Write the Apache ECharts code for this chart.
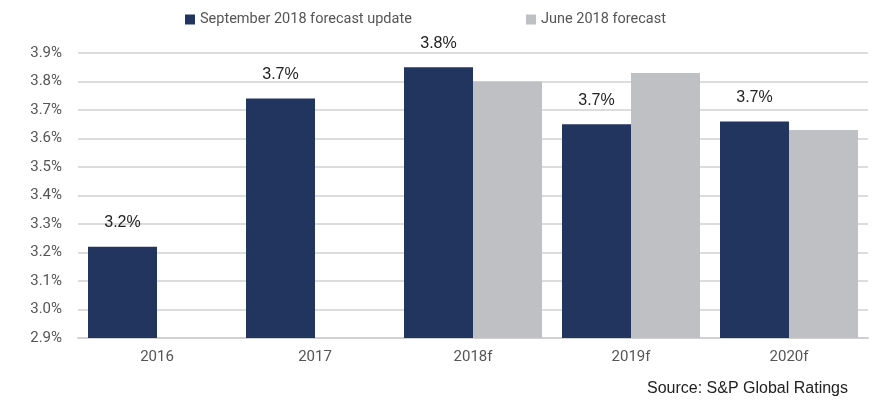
<!DOCTYPE html>
<html>
<head>
<meta charset="utf-8">
<script src="https://cdn.jsdelivr.net/npm/echarts@6/dist/echarts.min.js"></script>
<style>
  html, body { margin: 0; padding: 0; background: #fff; }
  #main { width: 872px; height: 401px; }
</style>
</head>
<body>
<div id="main"></div>
<script>
// data (percent)
var categories = ["2016", "2017", "2018f", "2019f", "2020f"];
var septUpdate = [3.22, 3.74, 3.85, 3.65, 3.66];
var juneForecast = [null, null, 3.80, 3.83, 3.63];
// labels as printed on the chart
var septLabels = ["3.2%", "3.7%", "3.8%", "3.7%", "3.7%"];
var seriesNames = ["September 2018 forecast update", "June 2018 forecast"];

var chart = echarts.init(document.getElementById("main"));
chart.setOption({
  animation: false,
  backgroundColor: "#fff",
  grid: { left: 78, right: 4, top: 53, bottom: 63 },
  legend: [
    {
      data: [seriesNames[0]],
      left: 180, top: 7,
      itemWidth: 10, itemHeight: 10, itemGap: 6,
      icon: "rect",
      textStyle: { color: "#555", fontSize: 14.5, fontFamily: "Roboto" }
    },
    {
      data: [seriesNames[1]],
      left: 521, top: 7,
      itemWidth: 10, itemHeight: 10, itemGap: 6,
      icon: "rect",
      textStyle: { color: "#555", fontSize: 14.5, fontFamily: "Roboto" }
    }
  ],
  xAxis: {
    type: "category",
    data: categories,
    axisTick: { show: false },
    axisLine: { lineStyle: { color: "#d0d0d0", width: 2 } },
    axisLabel: { color: "#555", fontSize: 15, fontFamily: "Roboto", margin: 12 }
  },
  yAxis: {
    type: "value",
    min: 2.9,
    max: 3.9,
    interval: 0.1,
    axisLine: { show: false },
    axisTick: { show: false },
    axisLabel: {
      color: "#555", fontSize: 15, fontFamily: "Roboto", margin: 16,
      formatter: function (v) { return v.toFixed(1) + "%"; }
    },
    splitLine: { lineStyle: { color: "#d0d0d0", width: 1.5 } }
  },
  series: [
    {
      name: seriesNames[0],
      type: "bar",
      data: septUpdate,
      barWidth: 69,
      barGap: "0%",
      itemStyle: { color: "#22355e" },
      label: {
        show: true,
        position: "top",
        distance: 16,
        color: "#222",
        fontSize: 16,
        fontFamily: "Liberation Sans",
        formatter: function (p) { return septLabels[p.dataIndex]; }
      }
    },
    {
      name: seriesNames[1],
      type: "bar",
      data: juneForecast,
      barWidth: 69,
      barGap: "0%",
      itemStyle: { color: "#bfc0c4" }
    }
  ],
  graphic: [
    {
      type: "text",
      right: 24,
      top: 381,
      style: {
        text: "Source: S&P Global Ratings",
        fill: "#222",
        fontSize: 16,
        fontFamily: "Liberation Sans"
      }
    }
  ]
});
</script>
</body>
</html>
